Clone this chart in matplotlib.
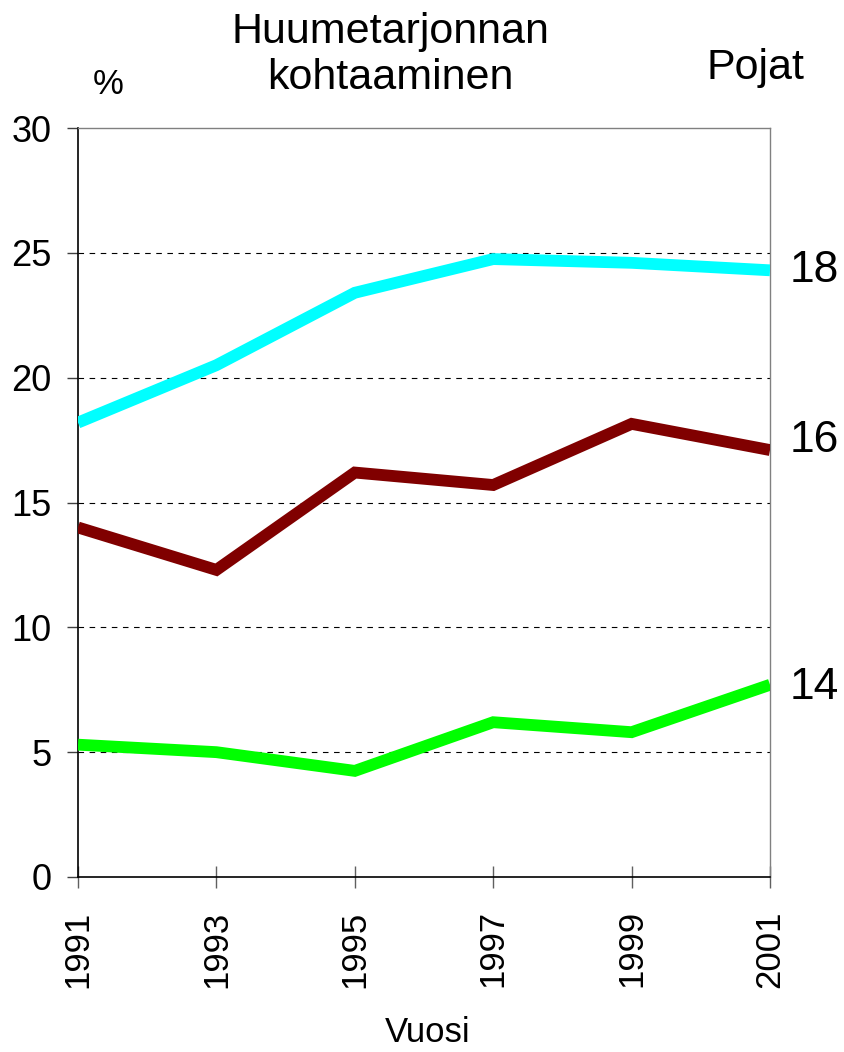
import matplotlib
matplotlib.use("Agg")
import matplotlib.pyplot as plt

plt.rcParams['font.family'] = ['Liberation Sans', 'DejaVu Sans']

years = [1991, 1993, 1995, 1997, 1999, 2001]
age18 = [18.2, 20.5, 23.4, 24.75, 24.6, 24.3]
age16 = [14.0, 12.3, 16.2, 15.7, 18.15, 17.1]
age14 = [5.3, 5.0, 4.25, 6.2, 5.8, 7.7]
series_labels = ['18', '16', '14']
colors = ['#00FFFF', '#800000', '#00FF00']
yticks = [0, 5, 10, 15, 20, 25, 30]

fig = plt.figure(figsize=(8.44, 10.52), dpi=100)
ax = fig.add_axes([78/844, 175/1052, 692/844, 749/1052])

label_dy = [0, 7, -2]
for vals, c, lab, dy in zip([age18, age16, age14], colors, series_labels, label_dy):
    ax.plot(years, vals, color=c, lw=8.5, solid_capstyle='butt', solid_joinstyle='miter', zorder=3)
    ax.annotate(lab, xy=(years[-1], vals[-1]), xytext=(14, dy), textcoords='offset points',
                fontsize=32, va='center', ha='left', annotation_clip=False)

ax.set_xlim(years[0], years[-1])
ax.set_ylim(0, 30)
ax.set_xticks(years)
ax.set_xticklabels([str(y) for y in years], rotation=90, fontsize=25)
ax.set_yticks(yticks)
ax.set_yticklabels([str(v) for v in yticks], fontsize=26)
ax.tick_params(axis='x', direction='inout', length=16, width=1, color='#606060', pad=16)
ax.tick_params(axis='y', direction='out', length=8, width=1, color='#404040', pad=11)

for y in yticks[1:-1]:
    ax.axhline(y, color='black', lw=0.8, ls=(0, (5, 5)), zorder=1)

for s in ['top', 'right']:
    ax.spines[s].set_color('#808080')
    ax.spines[s].set_linewidth(1)
for s in ['left', 'bottom']:
    ax.spines[s].set_color('black')
    ax.spines[s].set_linewidth(1.2)

fig.text(390/844, 1 - 55/1052, 'Huumetarjonnan\nkohtaaminen', ha='center', va='center',
         fontsize=31, linespacing=1.18)
fig.text(108/844, 1 - 85/1052, '%', ha='center', va='center', fontsize=25)
fig.text(756/844, 1 - 68/1052, 'Pojat', ha='center', va='center', fontsize=31)
fig.text(428/844, 1 - 1032/1052, 'Vuosi', ha='center', va='center', fontsize=25)

fig.savefig('out.png', dpi=100)
